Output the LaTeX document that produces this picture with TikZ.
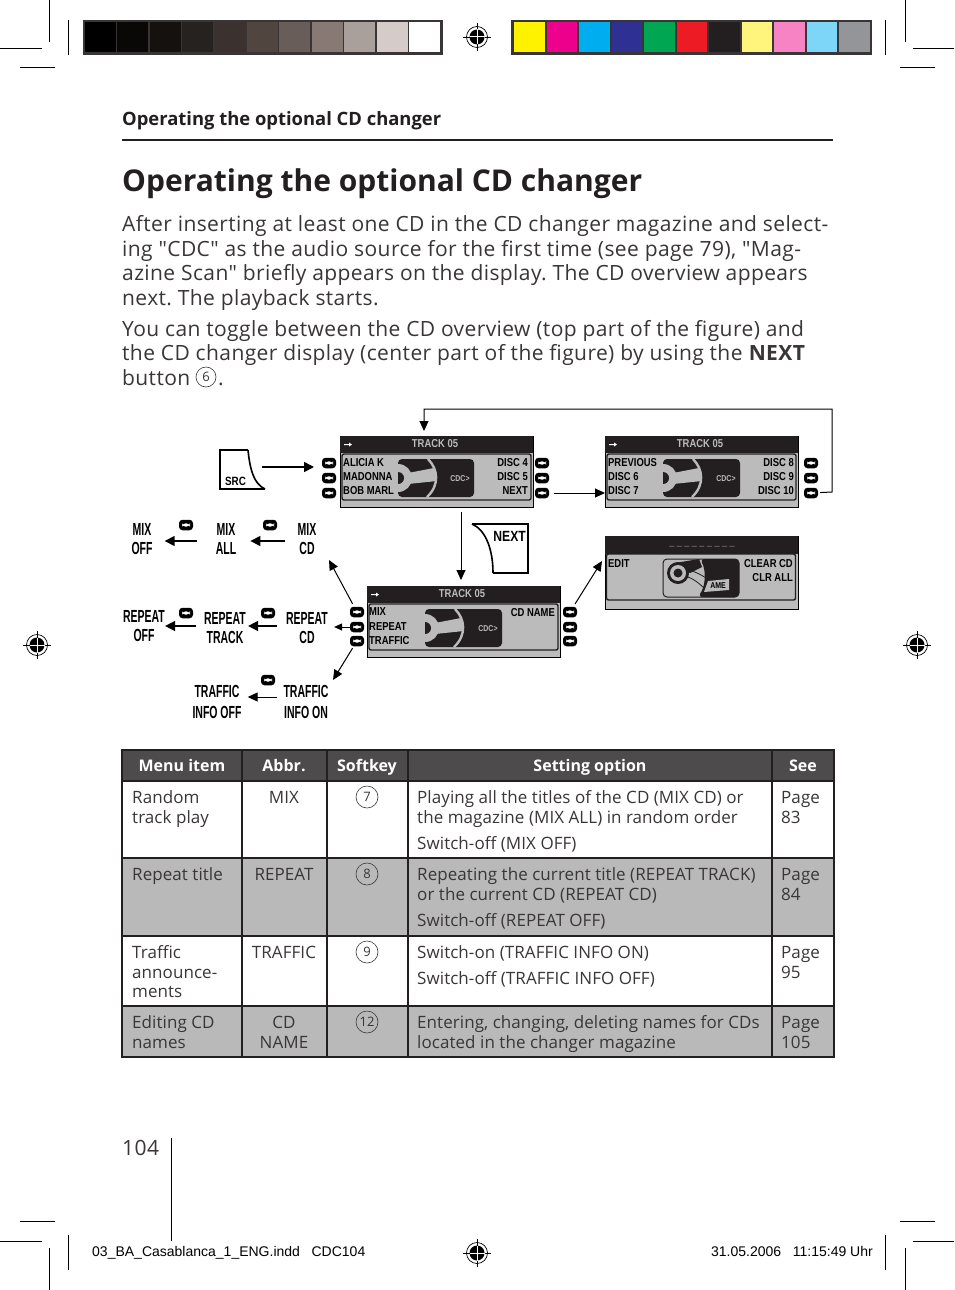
\documentclass[tikz,border=0pt]{standalone}
\usepackage{fontspec}
\usepackage{xcolor}
\setmainfont{Open Sans}
\newfontfamily\bodyfont[LetterSpace=1.9,Ligatures=TeXOff]{Open Sans}
\newfontfamily\cellfont[LetterSpace=0.4,Ligatures=TeXOff]{Open Sans}
\newfontfamily\lcdfont[FakeStretch=0.82]{Liberation Sans}
\newfontfamily\menufont[FakeStretch=0.6]{Liberation Sans}
\newfontfamily\footfont{Liberation Sans}
\usetikzlibrary{arrows.meta,calc}

\definecolor{inkdark}{HTML}{231F20}
\definecolor{headgray}{HTML}{4D4B4C}
\definecolor{rowgray}{HTML}{B9B9B9}
\definecolor{lcdgray}{HTML}{BBBBBB}
\definecolor{bodytext}{HTML}{3A3637}

\tikzset{
	softkey/.style={rectangle,fill=black,rounded corners=3.5pt,minimum width=14pt,minimum height=10.5pt,inner sep=0pt,
		path picture={\fill[white] ([xshift=-4pt,yshift=-1.6pt]path picture bounding box.center) rectangle ([xshift=4pt,yshift=1.6pt]path picture bounding box.center);}},
	lcdpanel/.style={draw=black,line width=1pt,fill=lcdgray,minimum width=193pt,minimum height=71pt,inner sep=0pt},
	lcdtext/.style={font=\lcdfont\bfseries\fontsize{11.5}{11.5}\selectfont,text=black,inner sep=0pt},
	menutext/.style={font=\menufont\bfseries\fontsize{17.5}{17.5}\selectfont,text=black,inner sep=0pt},
	pagetext/.style={anchor=base west,inner sep=0pt,text=bodytext,font=\bodyfont\fontsize{21}{21}\selectfont},
	celltext/.style={anchor=base west,inner sep=0pt,text=bodytext,font=\cellfont\fontsize{17}{17}\selectfont},
	midtext/.style={anchor=base,inner sep=0pt,text=bodytext,font=\cellfont\fontsize{17}{17}\selectfont},
	headtext/.style={anchor=base,inner sep=0pt,text=white,font=\bfseries\fontsize{16}{16}\selectfont},
	circled/.style={circle,draw=bodytext,line width=0.6pt,minimum size=22pt,inner sep=0pt,text=bodytext,font=\fontsize{13}{13}\selectfont},
	cropline/.style={line width=1pt,black},
	flow/.style={line width=1.5pt,-{Triangle[length=10pt,width=10pt]}},
	flowthin/.style={line width=1pt,-{Triangle[length=10pt,width=9pt]}},
	pics/cdart/.style={code={
		% black plate with the gray wheel on it
		\fill[inkdark,rounded corners=4pt] (0,0) rectangle (#1,38);
		\begin{scope}
			\clip (0,1) rectangle (40,37);
			\fill[lcdgray] (0,19) circle[radius=14];
			\fill[lcdgray] (10,14) -- (36,9) -- (39,22) -- (10,25) -- cycle;
			\fill[inkdark] (0,19) circle[radius=6];
		\end{scope}
		\draw[lcdgray,line width=2.4pt] (30,0) .. controls (40,10) and (42,26) .. (29,38);
	}},
	pics/regmark/.style={code={
		\draw[line width=0.7pt] (0,0) circle[radius=10.5];
		\fill[black] (0,0) circle[radius=7.5];
		\draw[white,line width=1pt] (-7.5,0) -- (7.5,0) (0,-7.5) -- (0,7.5);
		\draw[line width=0.6pt] (-14,0) -- (-7.5,0) (7.5,0) -- (14,0) (0,-14) -- (0,-7.5) (0,7.5) -- (0,14);
	}},
}

\begin{document}
\frenchspacing
\begin{tikzpicture}[x=1pt,y=-1pt]
	\useasboundingbox (0,0) rectangle (954,1290);
	\fill[white] (0,0) rectangle (954,1290);

	% crop marks
	\foreach \xa/\xb in {0/42,913/954} {
		\draw[cropline] (\xa,49) -- (\xb,49);
		\draw[cropline] (\xa,1241) -- (\xb,1241);
	}
	\foreach \xa/\xb in {20/55,900/935} {
		\draw[cropline] (\xa,68) -- (\xb,68);
		\draw[cropline] (\xa,1221) -- (\xb,1221);
	}
	\foreach \xa in {49,905.5} {
		\draw[cropline] (\xa,0) -- (\xa,42);
		\draw[cropline] (\xa,1248) -- (\xa,1290);
	}
	\foreach \xa in {68,885.5} {
		\draw[cropline] (\xa,20) -- (\xa,55);
		\draw[cropline] (\xa,1235) -- (\xa,1270);
	}

	% registration marks
	\pic at (477,37) {regmark};
	\pic at (477,1253) {regmark};
	\pic at (37,645) {regmark};
	\pic at (917,645) {regmark};

	% color bars
	\fill[inkdark!90!white] (83,20) rectangle (443,55);
	\foreach \i/\c in {0/000000,1/0A0806,2/15110F,3/262220,4/3B3230,5/50463F,6/685D58,7/877A74,8/A99F9B,9/D5CBC9,10/FFFFFF} {
		\definecolor{cellc}{HTML}{\c}
		\fill[cellc] (85+\i*32.4,22) rectangle ++(31,30);
	}
	\fill[inkdark!90!white] (511,20) rectangle (871.5,55);
	\foreach \i/\c in {0/FFF200,1/EC008C,2/00AEEF,3/2E3192,4/00A651,5/ED1C24,6/231F20,7/FFF57C,8/F683C4,9/7DD5F8,10/939598} {
		\definecolor{cellc}{HTML}{\c}
		\fill[cellc] (514+\i*32.5,22) rectangle ++(30.5,30);
	}

	% running head and title
	\node[pagetext,text=inkdark,font=\bfseries\fontsize{18.4}{18.4}\selectfont] (runhead) at (122,125) {Operating the optional CD changer};
	\draw[line width=2pt,inkdark] (122,140) -- (833,140);
	\node[pagetext,text=inkdark,font=\bfseries\fontsize{30}{30}\selectfont] (title) at (122,191) {Operating the optional CD changer};

	% text block
	\node[pagetext] (line1) at (122,231) {After inserting at least one CD in the CD changer magazine and select-};
	\node[pagetext] (line2) at (122,256) {ing "CDC" as the audio source for the first time (see page 79), "Mag-};
	\node[pagetext] (line3) at (122,280) {azine Scan" briefly appears on the display. The CD overview appears};
	\node[pagetext] (line4) at (122,305) {next. The playback starts.};
	\node[pagetext] (line5) at (122,336) {You can toggle between the CD overview (top part of the figure) and};
	\node[pagetext] (line6) at (122,360) {the CD changer display (center part of the figure) by using the \textbf{NEXT}};
	\node[pagetext] (line7) at (122,385) {button};
	\node[circled,minimum size=20pt] (key6) at (206,377) {6};
	\node[pagetext] (stop) at (218,385) {.};

	% displays
	\node[lcdpanel,anchor=north west] (trackleft) at (340,436) {};
	\node[lcdpanel,anchor=north west] (trackright) at (605,436) {};
	\node[lcdpanel,anchor=north west] (trackmid) at (367,586) {};
	\node[lcdpanel,anchor=north west,minimum height=73pt] (editcd) at (604.5,536) {};
	\foreach \xa/\ya in {340/436,605/436,367/586} {
		\fill[inkdark] (\xa,\ya) rectangle ++(193,17);
		\draw[inkdark,line width=1.4pt,rounded corners=2pt] (\xa+2,\ya+18) rectangle ++(189,46);
		\fill[white] (\xa+4,\ya+8) -- ++(5,0) -- ++(0,-1.5) -- ++(3,2) -- ++(-3,2) -- ++(0,-1.5) -- ++(-5,0) -- cycle;
	}
	\fill[inkdark] (604.5,536) rectangle ++(193,18);
	\draw[inkdark,line width=1.4pt,rounded corners=2pt] (606.5,554) rectangle ++(189,46);
	\pic at (398,459) {cdart=76};
	\pic at (663,459) {cdart=77};
	\pic at (425,609) {cdart=77};

	% disc with the name tag
	\fill[lcdgray,draw=inkdark,line width=1pt,rounded corners=4pt] (663,559) rectangle (739,597);
	\fill[inkdark,rounded corners=4pt] (700,559) .. controls (706,570) and (706,585) .. (698,597) -- (739,597) -- (739,559) -- cycle;
	\fill[inkdark] (675,563) -- (699,559) -- (702,567) -- (690,573) -- cycle;
	\fill[inkdark] (678,573) circle[radius=11];
	\fill[lcdgray] (678,573) circle[radius=8];
	\fill[inkdark] (678,573) circle[radius=4.5];
	\draw[inkdark,line width=0.8pt] (688,577) .. controls (696,580) and (702,586) .. (708,592);
	\draw[inkdark,line width=0.8pt] (688,570) .. controls (698,572) and (706,578) .. (712,582);
	\fill[lcdgray] (708,581) -- (729,579) -- (729,590) -- (704,592) -- cycle;
	\node[lcdtext,font=\lcdfont\bfseries\fontsize{8.5}{8.5}\selectfont] (nametag) at (718,585.5) {AME};

	% display labels
	\foreach \xa/\xb/\ya/\nm in {435/460/443.5/a,700/726/443.5/b,462/488/593.5/c} {
		\node[lcdtext,text=lcdgray,font=\lcdfont\bfseries\fontsize{11.5}{11.5}\selectfont] (trackname\nm) at (\xa,\ya) {TRACK 05};
		\node[lcdtext,text=lcdgray,font=\lcdfont\bfseries\fontsize{8.5}{8.5}\selectfont] (cdc\nm) at (\xb,\ya+35.5) {CDC>};
	}
	\node[lcdtext,anchor=west] (aliciak) at (343,463) {ALICIA K};
	\node[lcdtext,anchor=west] (madonna) at (343,477) {MADONNA};
	\node[lcdtext,anchor=west] (bobmarl) at (343,491) {BOB MARL};
	\node[lcdtext,anchor=east] (discfour) at (528,463) {DISC 4};
	\node[lcdtext,anchor=east] (discfive) at (528,477) {DISC 5};
	\node[lcdtext,anchor=east] (nextone) at (528,491) {NEXT};
	\node[lcdtext,anchor=west] (previous) at (608,463) {PREVIOUS};
	\node[lcdtext,anchor=west] (discsix) at (608,477) {DISC 6};
	\node[lcdtext,anchor=west] (discseven) at (608,491) {DISC 7};
	\node[lcdtext,anchor=east] (disceight) at (794,463) {DISC 8};
	\node[lcdtext,anchor=east] (discnine) at (794,477) {DISC 9};
	\node[lcdtext,anchor=east] (discten) at (794,491) {DISC 10};
	\node[lcdtext,anchor=west] (mixline) at (369,612) {MIX};
	\node[lcdtext,anchor=west] (repeatline) at (369,627) {REPEAT};
	\node[lcdtext,anchor=west] (trafficline) at (369,641) {TRAFFIC};
	\node[lcdtext,anchor=east] (cdname) at (555,613) {CD NAME};
	\node[lcdtext,anchor=west] (edit) at (608,564) {EDIT};
	\node[lcdtext,anchor=east] (clearcd) at (793,564) {CLEAR CD};
	\node[lcdtext,anchor=east] (clrall) at (793,578) {CLR ALL};
	\node[lcdtext,text=lcdgray,font=\lcdfont\bfseries\fontsize{11}{11}\selectfont] (namedash) at (702,546) {\_ \_ \_ \_ \_ \_ \_ \_ \_};

	% softkeys
	\foreach \nm/\ya in {1/463,2/478,3/493} {
		\node[softkey] (keya\nm) at (329,\ya) {};
		\node[softkey] (keyb\nm) at (542,\ya) {};
		\node[softkey] (keyc\nm) at (811,\ya) {};
	}
	\foreach \nm/\ya in {1/612,2/627,3/641} {
		\node[softkey] (keyd\nm) at (357,\ya) {};
		\node[softkey] (keye\nm) at (570,\ya) {};
	}
	\node[softkey] (keymixa) at (186,525) {};
	\node[softkey] (keymixb) at (270,525) {};
	\node[softkey] (keyrepa) at (186,613) {};
	\node[softkey] (keyrepb) at (268,613) {};
	\node[softkey] (keytraf) at (268,680) {};

	% buttons
	\draw[line width=1.6pt,black] (248,450) -- (220,450) -- (220,489) -- (265,489);
	\draw[line width=1.6pt,black] (248,450) .. controls (250,470) and (254,484) .. (265,489);
	\node[lcdtext,font=\lcdfont\bfseries\fontsize{12}{12}\selectfont] (srcbutton) at (235.5,481) {SRC};
	\draw[line width=1.6pt,black] (472,524) -- (528,524) -- (528,573) -- (493,573);
	\draw[line width=1.6pt,black] (472,524) .. controls (486,530) and (493,550) .. (493,573);
	\node[lcdtext,anchor=east,font=\lcdfont\bfseries\fontsize{14.8}{14.8}\selectfont] (nextbutton) at (526,536) {NEXT};

	% softkey menus
	\node[menutext,align=center] (mixoff) at (142,539) {MIX\\[2pt]OFF};
	\node[menutext,align=center] (mixall) at (226,539) {MIX\\[2pt]ALL};
	\node[menutext,align=center] (mixcd) at (307,539) {MIX\\[2pt]CD};
	\node[menutext,align=center] (repoff) at (144,626) {REPEAT\\[2pt]OFF};
	\node[menutext,align=center] (reptrack) at (225,628) {REPEAT\\[2pt]TRACK};
	\node[menutext,align=center] (repcd) at (307,628) {REPEAT\\[2pt]CD};
	\node[menutext,align=center] (trafoff) at (217,702) {TRAFFIC\\[3pt]INFO OFF};
	\node[menutext,align=center] (trafon) at (306,702) {TRAFFIC\\[3pt]INFO ON};

	% connectors
	\coordinate (srcend) at (262,467);
	\coordinate (leftin) at (314,467);
	\coordinate (downstart) at (461,512);
	\coordinate (downend) at (461,580);
	\coordinate (loopa) at (832,492);
	\coordinate (loopb) at (832,409);
	\coordinate (loopc) at (424,409);
	\coordinate (loopend) at (424,431);
	\coordinate (mixtip) at (329,560);
	\coordinate (edittip) at (602,561);
	\coordinate (traftip) at (333,680);
	\draw[flow] (srcend) -- (leftin);
	\draw[flowthin] (downstart) -- (downend);
	\draw[flowthin,shorten <=5pt] (keyb3) -- (trackright.west |- keyb3);
	\draw[flowthin,shorten <=2pt] (keyc3) -- (loopa) -- (loopb) -- (loopc) -- (loopend);
	\draw[flowthin,shorten <=3pt] (keyd1) -- (mixtip);
	\draw[flowthin,shorten <=3pt] (keye1) -- (edittip);
	\draw[flowthin,shorten <=2pt] (keyd3) -- (traftip);
	\draw[line width=1pt,-{Triangle[length=8pt,width=7pt]},shorten >=6pt] (keyd2) -- (repcd.east |- keyd2);
	\draw[flow,shorten <=19pt,shorten >=12pt] ([yshift=-2pt]mixall.west) -- ([yshift=-2pt]mixoff.east);
	\draw[flow,shorten <=12pt,shorten >=14pt] ([yshift=-2pt]mixcd.west) -- ([yshift=-2pt]mixall.east);
	\draw[flow,shorten <=8pt] ([yshift=2pt]reptrack.west) -- (repoff.east);
	\draw[flow,shorten <=9pt,shorten >=2pt] ([yshift=2pt]repcd.west) -- ([yshift=2pt]reptrack.east);
	\draw[flowthin,shorten <=6pt,shorten >=6pt] ([yshift=5pt]trafon.west) -- ([yshift=5pt]trafoff.east);

	% table
	\fill[headgray] (121,749) rectangle (835,781);
	\fill[rowgray] (121,858) rectangle (835,936);
	\fill[rowgray] (121,1006) rectangle (835,1058);
	\draw[line width=2.6pt,inkdark] (122,750) rectangle (834,1057);
	\foreach \xa in {241.5,327,408,772} { \draw[line width=2pt,inkdark] (\xa,749) -- (\xa,1058); }
	\foreach \ya in {781,858,936,1006} { \draw[line width=2pt,inkdark] (121,\ya) -- (835,\ya); }

	\node[headtext] (headitem) at (182,771) {Menu item};
	\node[headtext] (headabbr) at (284,771) {Abbr.};
	\node[headtext] (headkey) at (367,771) {Softkey};
	\node[headtext] (headopt) at (590,771) {Setting option};
	\node[headtext] (headsee) at (803,771) {See};

	% row 1
	\node[celltext] (randoma) at (132,803) {Random};
	\node[celltext] (randomb) at (132,823) {track play};
	\node[midtext] (abbrmix) at (284,803) {MIX};
	\node[circled] (key7) at (367,797) {7};
	\node[celltext] (opta) at (417,803) {Playing all the titles of the CD (MIX CD) or};
	\node[celltext] (optb) at (417,823) {the magazine (MIX ALL) in random order};
	\node[celltext] (optc) at (417,849) {Switch-off (MIX OFF)};
	\node[celltext] (seea) at (781,803) {Page};
	\node[celltext] (seeb) at (781,823) {83};
	% row 2
	\node[celltext] (repeattitle) at (132,880) {Repeat title};
	\node[midtext] (abbrrep) at (284,880) {REPEAT};
	\node[circled] (key8) at (367,874) {8};
	\node[celltext] (optd) at (417,880) {Repeating the current title (REPEAT TRACK)};
	\node[celltext] (opte) at (417,900) {or the current CD (REPEAT CD)};
	\node[celltext] (optf) at (417,926) {Switch-off (REPEAT OFF)};
	\node[celltext] (seec) at (781,880) {Page};
	\node[celltext] (seed) at (781,900) {84};
	% row 3
	\node[celltext] (trafa) at (132,958) {Traffic};
	\node[celltext] (trafb) at (132,978) {announce-};
	\node[celltext] (trafc) at (132,997) {ments};
	\node[midtext] (abbrtraf) at (284,958) {TRAFFIC};
	\node[circled] (key9) at (367,952) {9};
	\node[celltext] (optg) at (417,958) {Switch-on (TRAFFIC INFO ON)};
	\node[celltext] (opth) at (417,984) {Switch-off (TRAFFIC INFO OFF)};
	\node[celltext] (seee) at (781,958) {Page};
	\node[celltext] (seef) at (781,978) {95};
	% row 4
	\node[celltext] (edita) at (132,1028) {Editing CD};
	\node[celltext] (editb) at (132,1048) {names};
	\node[midtext] (abbrcda) at (284,1028) {CD};
	\node[midtext] (abbrcdb) at (284,1048) {NAME};
	\node[circled] (key12) at (367,1022) {12};
	\node[celltext] (opti) at (417,1028) {Entering, changing, deleting names for CDs};
	\node[celltext] (optj) at (417,1048) {located in the changer magazine};
	\node[celltext] (seeg) at (781,1028) {Page};
	\node[celltext] (seeh) at (781,1048) {105};

	% page foot
	\node[pagetext] (pagenum) at (122,1155) {104};
	\draw[cropline] (171,1138) -- (171,1241);
	\node[anchor=base west,inner sep=0pt,font=\footfont\fontsize{14}{14}\selectfont] (footleft) at (92,1256) {03\_BA\_Casablanca\_1\_ENG.indd\ \ \ CDC104};
	\node[anchor=base east,inner sep=0pt,font=\footfont\fontsize{14}{14}\selectfont] (footright) at (873,1256) {31.05.2006\ \ \ 11:15:49 Uhr};
\end{tikzpicture}
\end{document}
